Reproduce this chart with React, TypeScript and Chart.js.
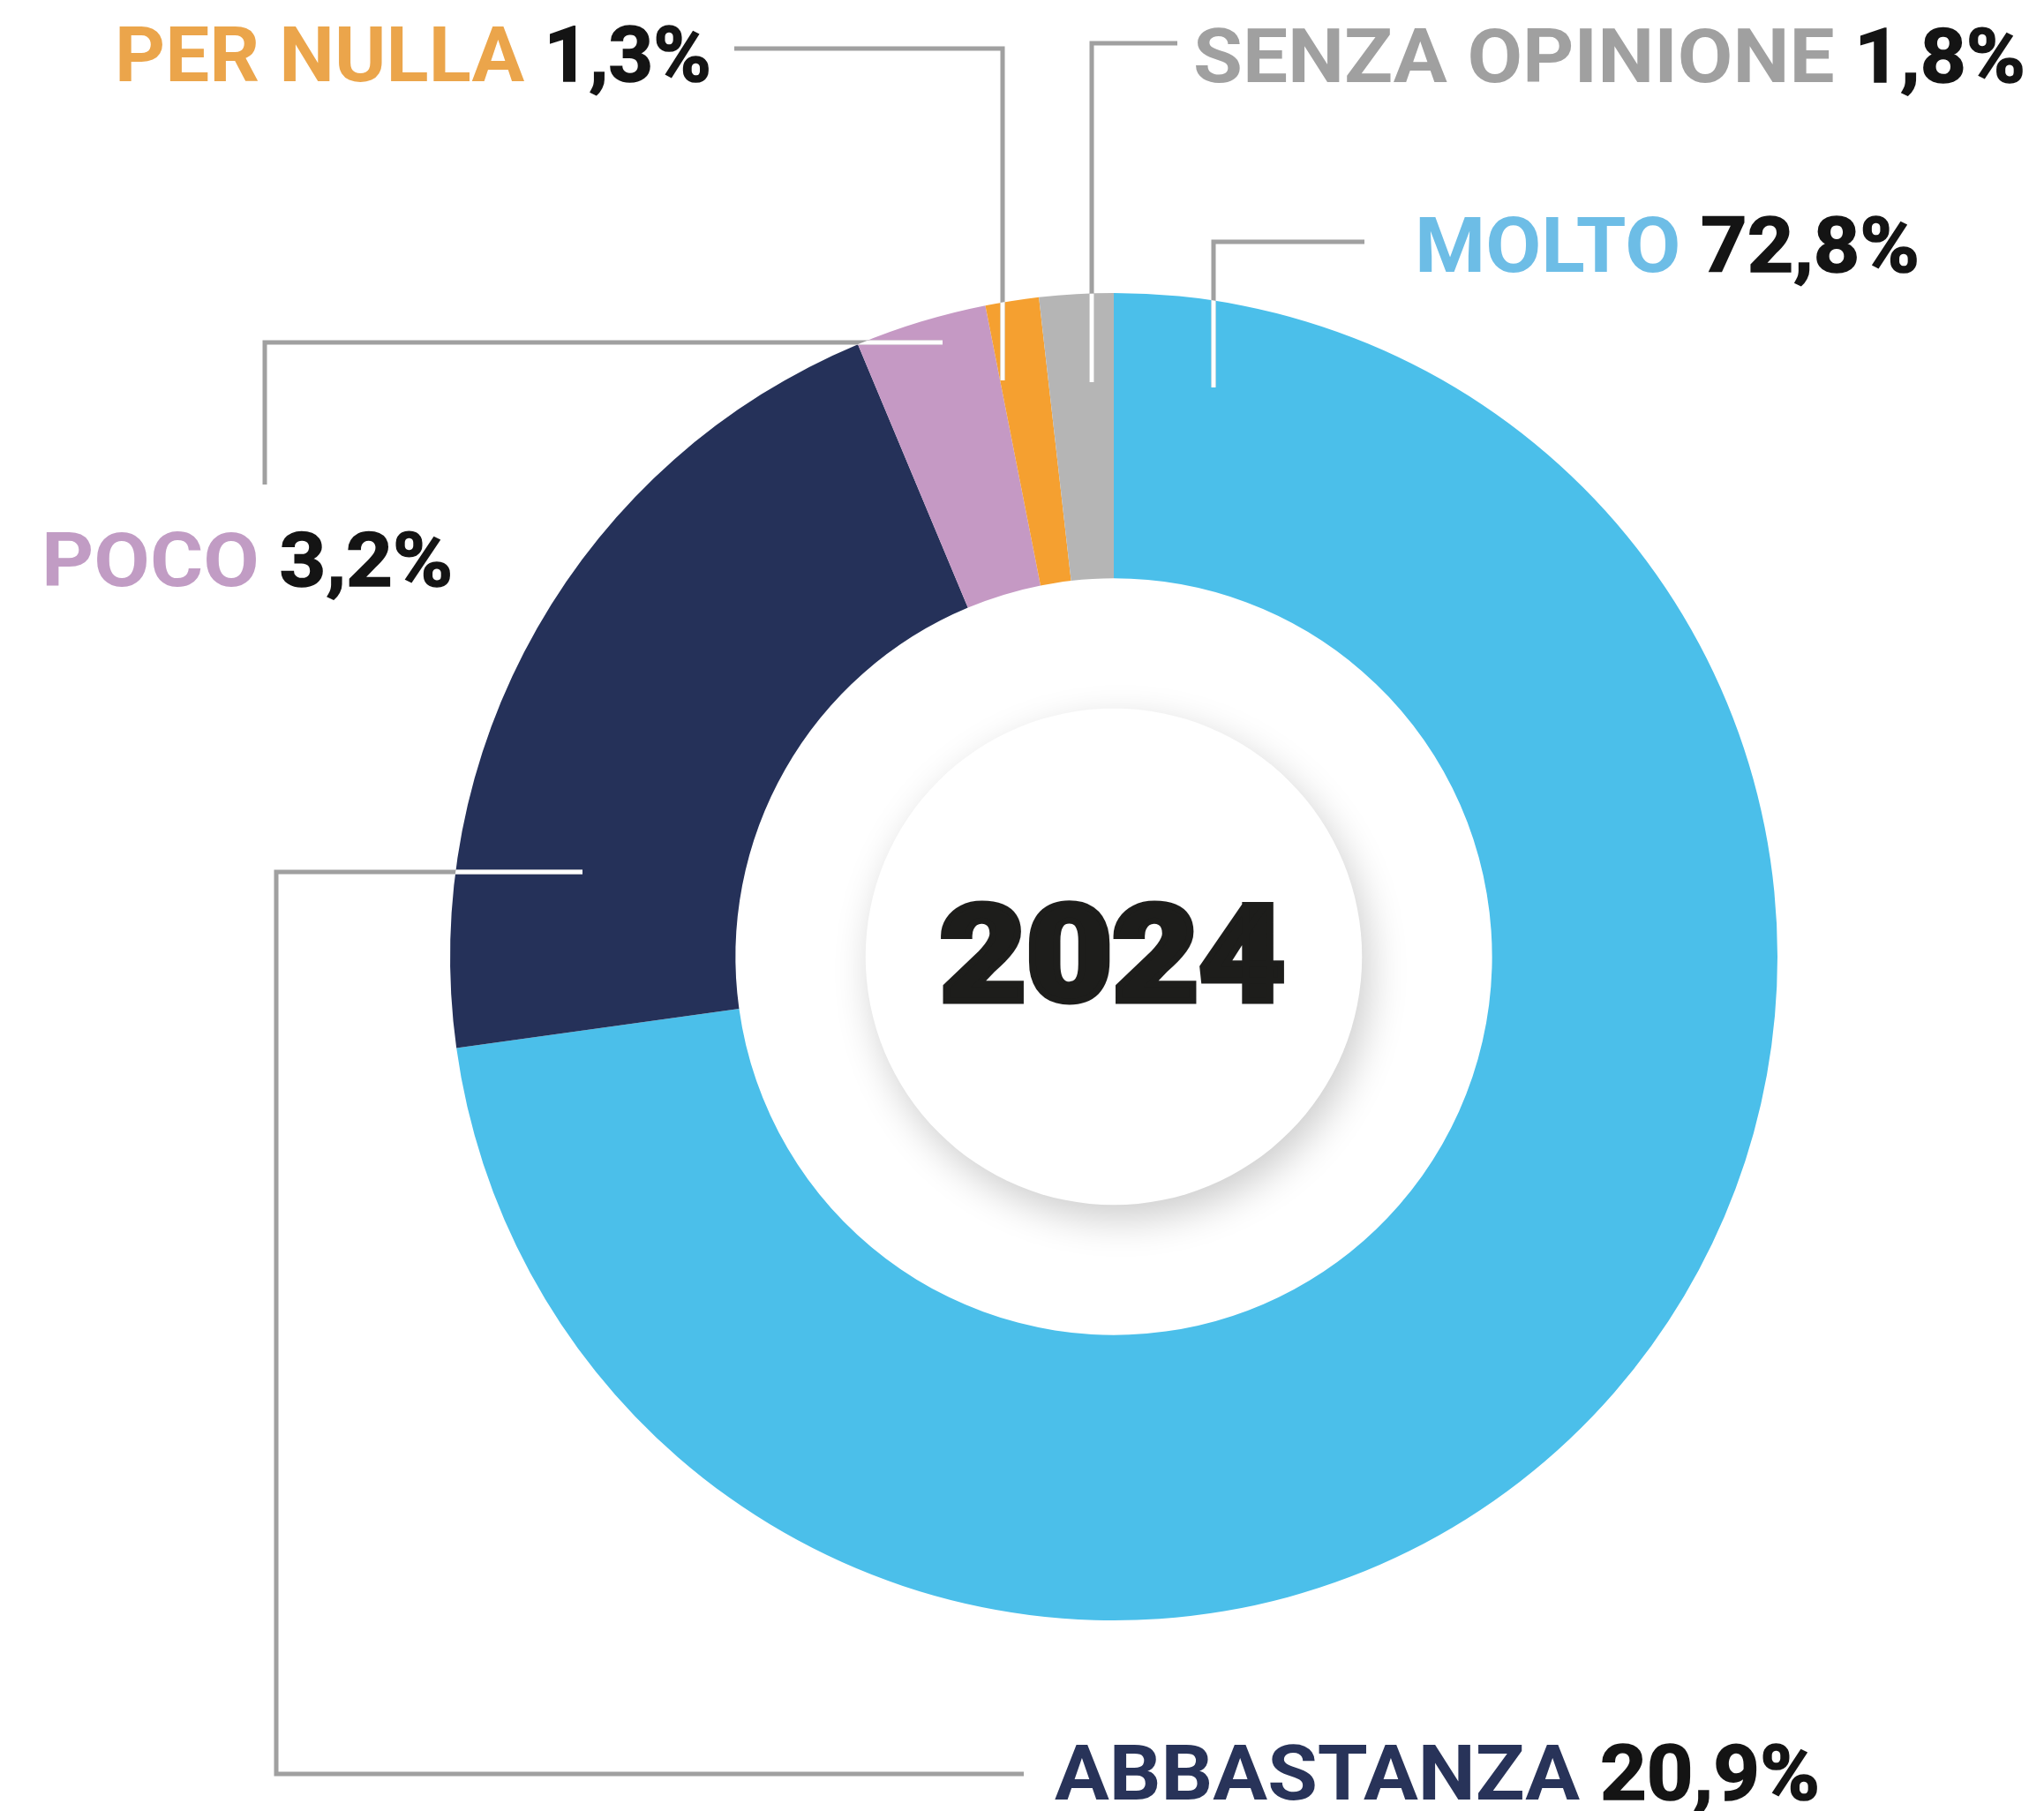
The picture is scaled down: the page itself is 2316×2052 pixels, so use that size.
import React, { useEffect, useRef } from "react";
import { Chart, registerables } from "chart.js";

Chart.register(...registerables);

// ---- Data ----
const categories = ["MOLTO", "ABBASTANZA", "POCO", "PER NULLA", "SENZA OPINIONE"];
const values = [72.8, 20.9, 3.2, 1.3, 1.8];
const centerTitle = "2024";

// ---- Styles ----
const sliceColors = ["#4BBFEA", "#253159", "#C599C4", "#F5A030", "#B5B5B5"];
const labelColors = ["#6DBDE6", "#283359", "#C19CC4", "#EBA54B", "#A0A0A0"];
const numberColor = "#141414";
const leaderColor = "#A0A0A0";

// Layout (px offsets from donut centre) for each category's callout
const leaderPaths: number[][][] = [
  [[284, -810], [113, -810], [113, -645]],
  [[-102, 926], [-949, 926], [-949, -96], [-602, -96]],
  [[-962, -535], [-962, -696], [-194, -696]],
  [[-430, -1029], [-126, -1029], [-126, -653]],
  [[72, -1035], [-25, -1035], [-25, -651]],
];
// left, baseline, target width, cap height
const labelBoxes: number[][] = [
  [341, -776, 572, 62],
  [-67, 955, 867, 62],
  [-1215, -420, 466, 61],
  [-1132, -992, 676, 61.5],
  [90, -991, 943, 61],
];
const titleBox = [-197, 50, 391, 108];

const fmt = (v: number) => v.toFixed(1).replace(".", ",") + "%";

const calloutPlugin = {
  id: "callouts",
  afterDatasetsDraw(chart: any) {
    const ctx: CanvasRenderingContext2D = chart.ctx;
    const meta = chart.getDatasetMeta(0);
    const arc = meta.data[0] as any;
    if (!arc) return;
    const cx = arc.x;
    const cy = arc.y;
    const R = arc.outerRadius;

    // inner disc with soft shadow
    ctx.save();
    ctx.beginPath();
    ctx.arc(cx, cy, R * 0.374, 0, Math.PI * 2);
    ctx.fillStyle = "#ffffff";
    ctx.shadowColor = "rgba(0,0,0,0.20)";
    ctx.shadowBlur = 45;
    ctx.shadowOffsetX = 8;
    ctx.shadowOffsetY = 16;
    ctx.fill();
    ctx.restore();

    // leader lines (gray outside the ring, white over it)
    const strokePaths = (color: string) => {
      ctx.strokeStyle = color;
      ctx.lineWidth = 5;
      ctx.lineCap = "butt";
      ctx.lineJoin = "miter";
      leaderPaths.forEach((path) => {
        ctx.beginPath();
        path.forEach(([dx, dy], i) => {
          if (i === 0) ctx.moveTo(cx + dx, cy + dy);
          else ctx.lineTo(cx + dx, cy + dy);
        });
        ctx.stroke();
      });
    };
    ctx.save();
    strokePaths(leaderColor);
    ctx.beginPath();
    ctx.arc(cx, cy, R, 0, Math.PI * 2);
    ctx.clip();
    strokePaths("#ffffff");
    ctx.restore();

    // labels
    categories.forEach((cat, i) => {
      const [lx, by, tw, cap] = labelBoxes[i];
      const size = cap / 0.711;
      ctx.save();
      ctx.font = `700 ${size}px Roboto, "Liberation Sans", sans-serif`;
      ctx.textBaseline = "alphabetic";
      ctx.textAlign = "left";
      const num = fmt(values[i]);
      const full = cat + " " + num;
      const w = ctx.measureText(full).width;
      const sx = tw / w;
      ctx.translate(cx + lx, cy + by);
      ctx.scale(sx, 1);
      ctx.fillStyle = labelColors[i];
      ctx.fillText(cat, 0, 0);
      ctx.fillStyle = numberColor;
      ctx.strokeStyle = numberColor;
      ctx.lineWidth = 1.5;
      const nx = ctx.measureText(cat + " ").width;
      ctx.fillText(num, nx, 0);
      ctx.strokeText(num, nx, 0);
      ctx.restore();
    });

    // centre title (heavy)
    {
      const [lx, by, tw, cap] = titleBox;
      const size = cap / 0.711;
      ctx.save();
      ctx.font = `900 ${size}px Roboto, "Liberation Sans", sans-serif`;
      ctx.textBaseline = "alphabetic";
      ctx.textAlign = "left";
      const w = ctx.measureText(centerTitle).width;
      ctx.translate(cx + lx, cy + by);
      ctx.scale(tw / w, 1);
      ctx.fillStyle = "#1D1D1B";
      ctx.strokeStyle = "#1D1D1B";
      ctx.lineWidth = 7;
      ctx.lineJoin = "miter";
      ctx.fillText(centerTitle, 0, 0);
      ctx.strokeText(centerTitle, 0, 0);
      ctx.restore();
    }
  },
};

export default function App() {
  const canvasRef = useRef<HTMLCanvasElement | null>(null);

  useEffect(() => {
    if (!canvasRef.current) return;
    const chart = new Chart(canvasRef.current, {
      type: "doughnut",
      data: {
        labels: categories,
        datasets: [
          {
            data: values,
            backgroundColor: sliceColors,
            borderWidth: 0,
            hoverOffset: 0,
          },
        ],
      },
      options: {
        responsive: false,
        animation: false,
        devicePixelRatio: 1,
        cutout: "57%",
        rotation: 0,
        layout: { padding: { left: 510, right: 302, top: 332, bottom: 216 } },
        plugins: {
          legend: { display: false },
          tooltip: { enabled: false },
        },
        events: [],
      },
      plugins: [calloutPlugin],
    });
    return () => chart.destroy();
  }, []);

  return (
    <div style={{ position: "absolute", left: 0, top: 0, width: 2316, height: 2052, background: "#ffffff" }}>
      <canvas ref={canvasRef} width={2316} height={2052} style={{ width: 2316, height: 2052, display: "block" }} />
    </div>
  );
}
